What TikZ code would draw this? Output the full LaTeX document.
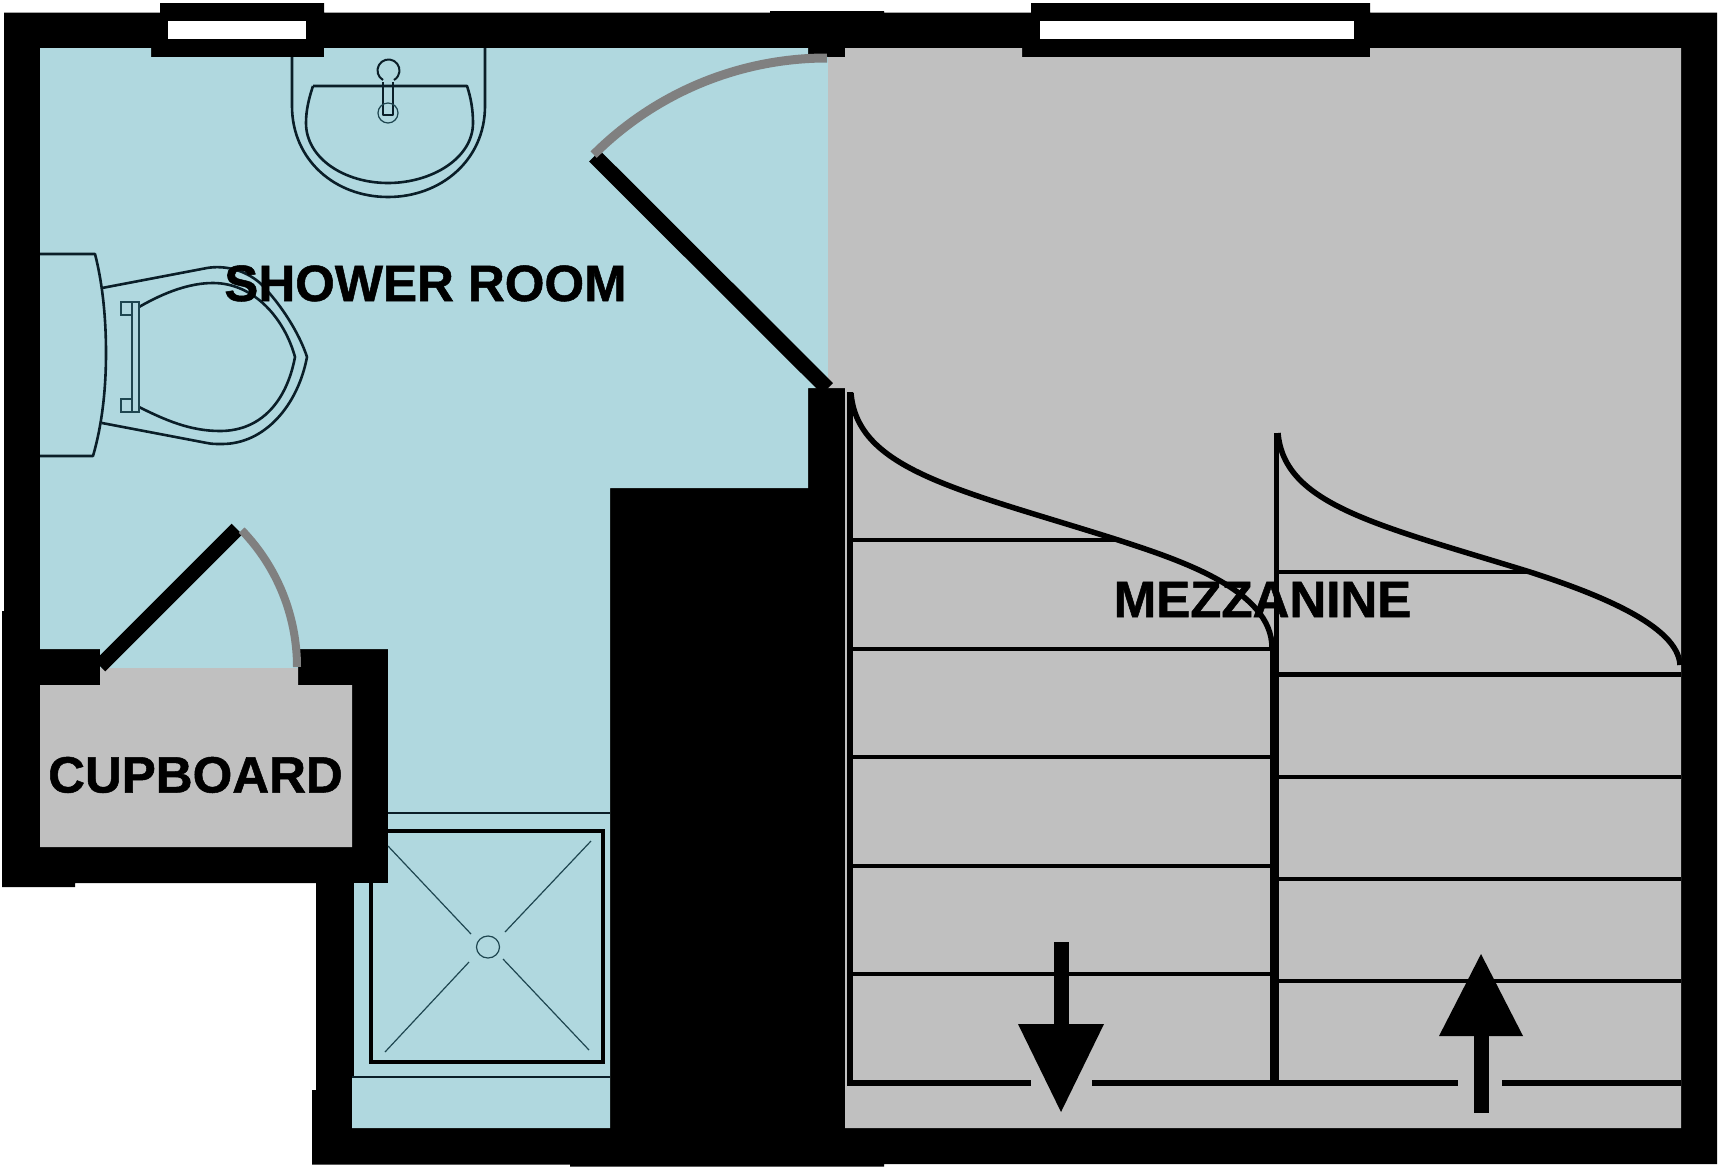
\documentclass[tikz,border=0pt]{standalone}
\usepackage{fontspec}
\setmainfont{Liberation Sans}
\newfontfamily\labelfont[BoldFeatures={FakeBold=1.0}]{Liberation Sans}
\definecolor{roomblue}{HTML}{B0D8DF}
\definecolor{roomgrey}{HTML}{C0C0C0}
\definecolor{doorgrey}{HTML}{808080}
\definecolor{fixture}{HTML}{0A1E28}
\definecolor{thinteal}{HTML}{1E4650}
\tikzset{
  wall/.style={fill=black,draw=none},
  blueroom/.style={fill=roomblue,draw=none},
  greyroom/.style={fill=roomgrey,draw=none},
  glass/.style={fill=white,draw=none},
  doorleaf/.style={draw=black,line width=15.5pt},
  doorarc/.style={draw=doorgrey,line width=9pt},
  fixtureline/.style={draw=fixture,line width=2.6pt,line join=round},
  thinline/.style={draw=thinteal,line width=1.2pt},
  trayline/.style={draw=black,line width=3.5pt},
  tread/.style={draw=black,line width=4.4pt},
  stringer/.style={draw=black,line width=5.5pt},
  curveline/.style={draw=black,line width=5.5pt},
  roomlabel/.style={font=\labelfont\bfseries\fontsize{51}{51}\selectfont,text=black,inner sep=0pt,anchor=base},
}
\begin{document}
\begin{tikzpicture}[x=1pt,y=-1pt]
\useasboundingbox (0,0) rectangle (1720,1170);
\fill[white] (0,0) rectangle (1720,1170);
% walls silhouette
\path[wall] (4,12.5)--(160,12.5)--(160,3)--(324,3)--(324,12.5)--(770,12.5)--(770,11)--(884,11)--(884,12.5)--(1031,12.5)--(1031,3)--(1370,3)--(1370,12.5)--(1717,12.5)--(1717,1164)--(884,1164)--(884,1166.5)--(570,1166.5)--(570,1164.5)--(312,1164.5)--(312,1090)--(316,1090)--(316,883)--(75,883)--(75,887)--(2,887)--(2,611)--(4,611)--cycle;
% rooms
\path[blueroom] (40,48)--(151,48)--(151,57)--(324,57)--(324,48)--(808,48)--(808,57)--(828,57)--(828,388)--(808,388)--(808,488)--(610,488)--(610,1128)--(352,1128)--(352,1078)--(354,1078)--(354,883)--(388,883)--(388,649)--(298,649)--(298,668)--(100,668)--(100,649)--(40,649)--cycle;
\path[greyroom] (845,48)--(1022,48)--(1022,57)--(1370,57)--(1370,48)--(1681,48)--(1681,1128)--(845,1128)--(845,388)--(828,388)--(828,57)--(845,57)--cycle;
\path[greyroom] (40,685)--(100,685)--(100,668)--(298,668)--(298,685)--(352,685)--(352,847)--(40,847)--cycle;
% windows
\path[glass] (168,21) rectangle (306,39);
\path[glass] (1040,21) rectangle (1354,39);
% doors
\draw[doorleaf] (594.5,156)--(827.5,388.5);
\draw[doorarc] (827,58) arc[start angle=90,end angle=135,radius=330pt];
\draw[doorleaf,line width=15pt] (237,529)--(100,666);
\draw[doorarc,line width=8pt] (297,667) arc[start angle=0,end angle=44,radius=197pt];
% basin
\draw[fixtureline] (292,57)--(292,106) .. controls (292,160) and (335,197) .. (388,197) .. controls (441,197) and (485,160) .. (485,106)--(485,48);
\draw[fixtureline] (313,86)--(467,86) .. controls (471,98) and (473,110) .. (473,123) .. controls (473,158) and (432,183) .. (388,183) .. controls (344,183) and (306,158) .. (306,123) .. controls (306,110) and (309,98) .. (313,86);
\draw[fixtureline,line width=2pt] (383,82)--(383,115)--(393,115)--(393,82);
\draw[fixtureline,line width=2pt,fill=roomblue] (383,80) arc[start angle=240,end angle=-60,radius=11pt];
\draw[roomblue,line width=1.6pt] (384.2,81)--(391.8,81);
\draw[thinline] (388,113) circle[radius=10pt];
% toilet
\draw[fixtureline] (40,254)--(95,254) .. controls (103,285) and (106,320) .. (106,353) .. controls (106,390) and (102,425) .. (93,456)--(40,456);
\draw[fixtureline] (102,288)--(207,268) .. controls (225,265) and (245,270) .. (260,283) .. controls (282,305) and (300,335) .. (307,357) .. controls (298,405) and (265,444) .. (222,444) .. controls (215,444) and (212,444) .. (207,443)--(102,423);
\draw[fixtureline] (139,307) .. controls (165,292) and (190,283) .. (213,283) .. controls (255,283) and (285,320) .. (295,357) .. controls (287,400) and (262,431) .. (220,431) .. controls (190,431) and (165,420) .. (139,407);
\draw[thinline,line width=1.5pt] (132,302) rectangle (139,412);
\draw[thinline,line width=1.5pt] (132,302)--(121,302)--(121,315)--(132,315);
\draw[thinline,line width=1.5pt] (132,399)--(121,399)--(121,412)--(132,412);
% shower
\draw[fixtureline] (388,813)--(610,813);
\draw[fixtureline] (352,1077)--(610,1077);
\draw[trayline] (371,883)--(371,1062)--(603,1062)--(603,831)--(388,831);
\draw[thinline] (488,947) ellipse[x radius=11.5pt,y radius=11pt];
\draw[thinline] (388,846)--(471,934);
\draw[thinline] (591,841)--(505,932);
\draw[thinline] (385,1052)--(469,962);
\draw[thinline] (589,1050)--(503,959);
% stairs
\draw[tread] (850,540)--(1115,540);
\draw[tread] (850,649)--(1272,649);
\draw[tread] (850,757)--(1272,757);
\draw[tread] (850,866)--(1272,866);
\draw[tread] (850,974)--(1272,974);
\draw[tread] (1276,572)--(1530,572);
\draw[tread] (1276,674.5)--(1681,674.5);
\draw[tread] (1276,777)--(1681,777);
\draw[tread] (1276,879)--(1681,879);
\draw[tread] (1276,981)--(1681,981);
\draw[stringer] (850,392)--(850,1085);
\draw[stringer] (1276.7,433)--(1276.7,1085);
\draw[stringer,line width=4pt] (1272,648)--(1272,1085);
\draw[stringer,line width=6pt] (847,1083)--(1031,1083);
\draw[stringer,line width=6pt] (1092,1083)--(1458,1083);
\draw[stringer,line width=6pt] (1502,1083)--(1681,1083);
\draw[curveline] (851,393) .. controls (857,470) and (960,490) .. (1115,539) .. controls (1180,560) and (1272,590) .. (1272,648);
\draw[curveline] (1278,433) .. controls (1284,505) and (1378,525) .. (1530,572) .. controls (1595,593) and (1678,625) .. (1680,665);
% arrows
\fill[black] (1053.5,942) rectangle (1069,1025);
\fill[black] (1018,1024)--(1104,1024)--(1061,1112)--cycle;
\fill[black] (1474,1035) rectangle (1489,1113);
\fill[black] (1439,1036)--(1523,1036)--(1481,954)--cycle;
% labels
\node[roomlabel] (shower) at (425.5,301) {SHOWER ROOM};
\node[roomlabel] (mezz) at (1262.5,617) {MEZZANINE};
\node[roomlabel] (cupb) at (195.5,792.5) {CUPBOARD};
\end{tikzpicture}
\end{document}
